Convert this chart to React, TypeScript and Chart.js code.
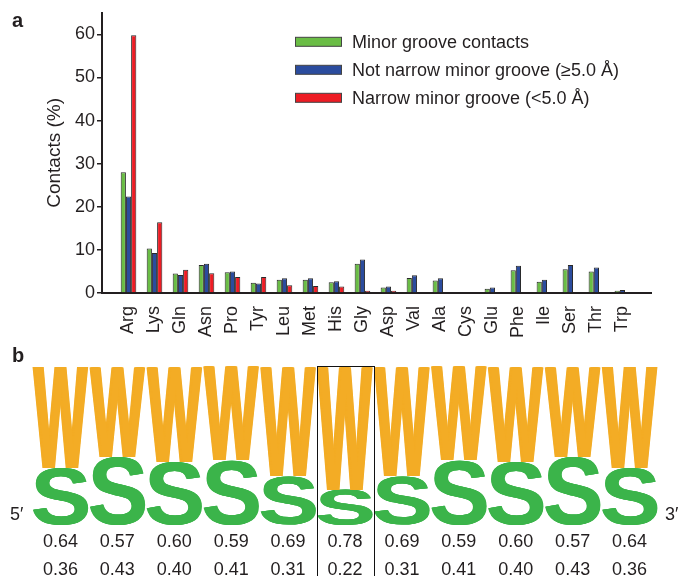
import React, { useEffect, useRef } from 'react';
import { Chart, registerables } from 'chart.js';

Chart.register(...registerables);

const FONT = '"Liberation Sans", Arial, Helvetica, sans-serif';
const INK = '#231f20';

// ---- Panel a data ----
const aminoAcids = ['Arg', 'Lys', 'Gln', 'Asn', 'Pro', 'Tyr', 'Leu', 'Met', 'His', 'Gly', 'Asp', 'Val', 'Ala', 'Cys', 'Glu', 'Phe', 'Ile', 'Ser', 'Thr', 'Trp'];
const minorGrooveContacts = [28.0, 10.3, 4.5, 6.5, 4.8, 2.4, 3.1, 3.1, 2.5, 6.8, 1.25, 3.5, 2.9, 0, 1.0, 5.3, 2.6, 5.5, 5.0, 0.55];
const notNarrowGroove = [22.4, 9.3, 4.2, 6.8, 5.0, 2.2, 3.4, 3.4, 2.7, 7.8, 1.5, 4.1, 3.4, 0, 1.25, 6.3, 3.1, 6.5, 5.9, 0.7];
const narrowGroove = [59.8, 16.4, 5.4, 4.6, 3.7, 3.7, 1.8, 1.6, 1.5, 0.55, 0.55, 0.2, 0, 0, 0, 0, 0, 0, 0, 0];
const seriesLabels = ['Minor groove contacts', 'Not narrow minor groove (\u22655.0 \u00c5)', 'Narrow minor groove (<5.0 \u00c5)'];
const seriesColors = ['#6abd45', '#2b4c9e', '#ed1c24'];
const yTickValues = [0, 10, 20, 30, 40, 50, 60];

// ---- Panel b data ----
const positionW = [0.64, 0.57, 0.60, 0.59, 0.69, 0.78, 0.69, 0.59, 0.60, 0.57, 0.64];
const positionS = [0.36, 0.43, 0.40, 0.41, 0.31, 0.22, 0.31, 0.41, 0.40, 0.43, 0.36];
const logoLetters = ['S', 'W'];
const logoColors = ['#3bb44a', '#f3ac25'];
const logoLetterBoost = [0.5, 1.5];
const highlightPosition = 5;

const legendPlugin = {
  id: 'insideLegend',
  afterDraw(chart: any) {
    const ctx = chart.ctx;
    const { left, top } = chart.chartArea;
    ctx.save();
    chart.data.datasets.forEach((ds: any, i: number) => {
      const cy = top + 29 + i * 28;
      const x = left + 193;
      ctx.fillStyle = ds.backgroundColor;
      ctx.fillRect(x, cy - 4.5, 47, 9);
      ctx.strokeStyle = '#444';
      ctx.lineWidth = 1;
      ctx.strokeRect(x + 0.5, cy - 4.5, 46, 9);
      ctx.fillStyle = INK;
      ctx.font = `18px ${FONT}`;
      ctx.textBaseline = 'middle';
      ctx.textAlign = 'left';
      ctx.fillText(ds.label, x + 57, cy + 1);
    });
    ctx.restore();
  },
};

// Draws a glyph stretched to fill a box; `pad` thickens strokes horizontally only.
function drawStretchedLetter(ctx: CanvasRenderingContext2D, letter: string, color: string, x: number, y: number, w: number, h: number, pad: number) {
  if (w <= 0 || h <= 0) return;
  ctx.save();
  ctx.font = `bold 200px ${FONT}`;
  ctx.textAlign = 'left';
  ctx.textBaseline = 'alphabetic';
  const m = ctx.measureText(letter);
  const gw = m.actualBoundingBoxLeft + m.actualBoundingBoxRight;
  const gh = m.actualBoundingBoxAscent + m.actualBoundingBoxDescent;
  const innerW = w - 2 * pad;
  const sx = innerW / gw;
  const sy = h / gh;
  ctx.fillStyle = color;
  const steps = Math.max(1, Math.ceil(pad * 4));
  for (let k = 0; k <= steps; k++) {
    const off = steps === 0 ? 0 : (2 * pad * k) / steps;
    ctx.save();
    ctx.translate(x + off, y);
    ctx.scale(sx, sy);
    ctx.fillText(letter, m.actualBoundingBoxLeft, m.actualBoundingBoxAscent);
    ctx.restore();
  }
  ctx.restore();
}

const logoPlugin = {
  id: 'logoLetters',
  afterDatasetsDraw(chart: any) {
    const ctx = chart.ctx;
    chart.data.datasets.forEach((ds: any, di: number) => {
      const meta = chart.getDatasetMeta(di);
      meta.data.forEach((bar: any) => {
        const { x, y, base, width } = bar.getProps(['x', 'y', 'base', 'width'], true);
        drawStretchedLetter(ctx, logoLetters[di], logoColors[di], x - width / 2, y, width, base - y, logoLetterBoost[di]);
      });
    });
    const xs = chart.scales.x;
    const px = xs.getPixelForValue(highlightPosition);
    const half = (xs.getPixelForValue(1) - xs.getPixelForValue(0)) / 2;
    ctx.save();
    ctx.strokeStyle = '#111';
    ctx.lineWidth = 1;
    ctx.strokeRect(Math.round(px - half) + 0.5, Math.round(chart.chartArea.top) - 0.5, Math.round(2 * half), chart.height);
    ctx.restore();
  },
};

export default function App() {
  const refA = useRef<HTMLCanvasElement>(null);
  const refB = useRef<HTMLCanvasElement>(null);

  useEffect(() => {
    const seriesValues = [minorGrooveContacts, notNarrowGroove, narrowGroove];
    const chartA = new Chart(refA.current!, {
      type: 'bar',
      data: {
        datasets: seriesValues.map((vals, si) => ({
          label: seriesLabels[si],
          data: vals.map((v, i) => ({ x: i, y: v })),
          backgroundColor: seriesColors[si],
          borderColor: '#2a2a2a',
          borderWidth: 1,
          categoryPercentage: 0.6,
          barPercentage: 1,
        })),
      },
      options: {
        animation: false,
        responsive: false,
        events: [],
        layout: { padding: { left: 0, top: 10.6, right: 29, bottom: 0 } },
        plugins: { legend: { display: false }, tooltip: { enabled: false } },
        scales: {
          x: {
            type: 'linear',
            offset: false,
            min: -1.02,
            max: 20.1,
            afterBuildTicks: (s: any) => {
              s.ticks = aminoAcids.map((_, i) => ({ value: i }));
            },
            afterFit: (s: any) => {
              s.height = 47;
            },
            grid: { display: false, offset: false },
            border: { display: true, color: INK, width: 2 },
            ticks: {
              autoSkip: false,
              maxRotation: 90,
              minRotation: 90,
              padding: 5,
              color: INK,
              font: { family: FONT, size: 18 },
              callback: (v: any) => aminoAcids[v] ?? '',
            },
          },
          y: {
            min: 0,
            max: 65,
            afterBuildTicks: (s: any) => {
              s.ticks = yTickValues.map((v) => ({ value: v }));
            },
            afterFit: (s: any) => {
              s.width = 102;
            },
            grid: { drawOnChartArea: false, drawTicks: true, tickLength: 5, color: INK, lineWidth: 1.5 },
            border: { display: true, color: INK, width: 2 },
            ticks: { padding: 2, color: INK, font: { family: FONT, size: 18 } },
            title: {
              display: true,
              text: 'Contacts (%)',
              color: INK,
              font: { family: FONT, size: 19 },
              padding: { top: 43.6, bottom: 0 },
            },
          },
        },
      },
      plugins: [legendPlugin],
    } as any);

    const chartB = new Chart(refB.current!, {
      type: 'bar',
      data: {
        labels: positionW.map((w, i) => [w.toFixed(2), positionS[i].toFixed(2)]),
        datasets: [positionS, positionW].map((vals, di) => ({
          label: logoLetters[di],
          data: vals,
          backgroundColor: 'rgba(0,0,0,0)',
          borderWidth: 0,
          categoryPercentage: 1,
          barPercentage: 0.98,
        })),
      },
      options: {
        animation: false,
        responsive: false,
        events: [],
        layout: { padding: { left: 32, top: 27, right: 22, bottom: 0 } },
        plugins: { legend: { display: false }, tooltip: { enabled: false } },
        scales: {
          x: {
            stacked: true,
            afterFit: (s: any) => {
              s.height = 51;
            },
            grid: { display: false },
            border: { display: false },
            ticks: {
              padding: -5,
              color: INK,
              font: { family: FONT, size: 18, lineHeight: 28 / 18 },
            },
          },
          y: { stacked: true, display: false, min: 0, max: 1 },
        },
      },
      plugins: [logoPlugin],
    } as any);

    return () => {
      chartA.destroy();
      chartB.destroy();
    };
  }, []);

  const abs = (left: number, top: number, extra: any = {}) => ({
    position: 'absolute' as const,
    left,
    top,
    lineHeight: 1,
    margin: 0,
    whiteSpace: 'nowrap' as const,
    ...extra,
  });

  return (
    <div style={{ position: 'fixed', left: 0, top: 0, width: 680, height: 576, background: '#fff', fontFamily: FONT, color: INK, overflow: 'hidden' }}>
      <div style={{ position: 'absolute', left: 0, top: 0, width: 680, height: 340 }}>
        <canvas ref={refA} width={680} height={340} style={{ display: 'block' }} />
      </div>
      <div style={{ position: 'absolute', left: 0, top: 340, width: 680, height: 236 }}>
        <canvas ref={refB} width={680} height={236} style={{ display: 'block' }} />
      </div>
      <span style={abs(12, 10, { fontSize: 20, fontWeight: 'bold' })}>a</span>
      <span style={abs(12, 345, { fontSize: 20, fontWeight: 'bold' })}>b</span>
      <span style={abs(10, 505, { fontSize: 18 })}>5{'\u2032'}</span>
      <span style={abs(665, 505, { fontSize: 18 })}>3{'\u2032'}</span>
    </div>
  );
}
